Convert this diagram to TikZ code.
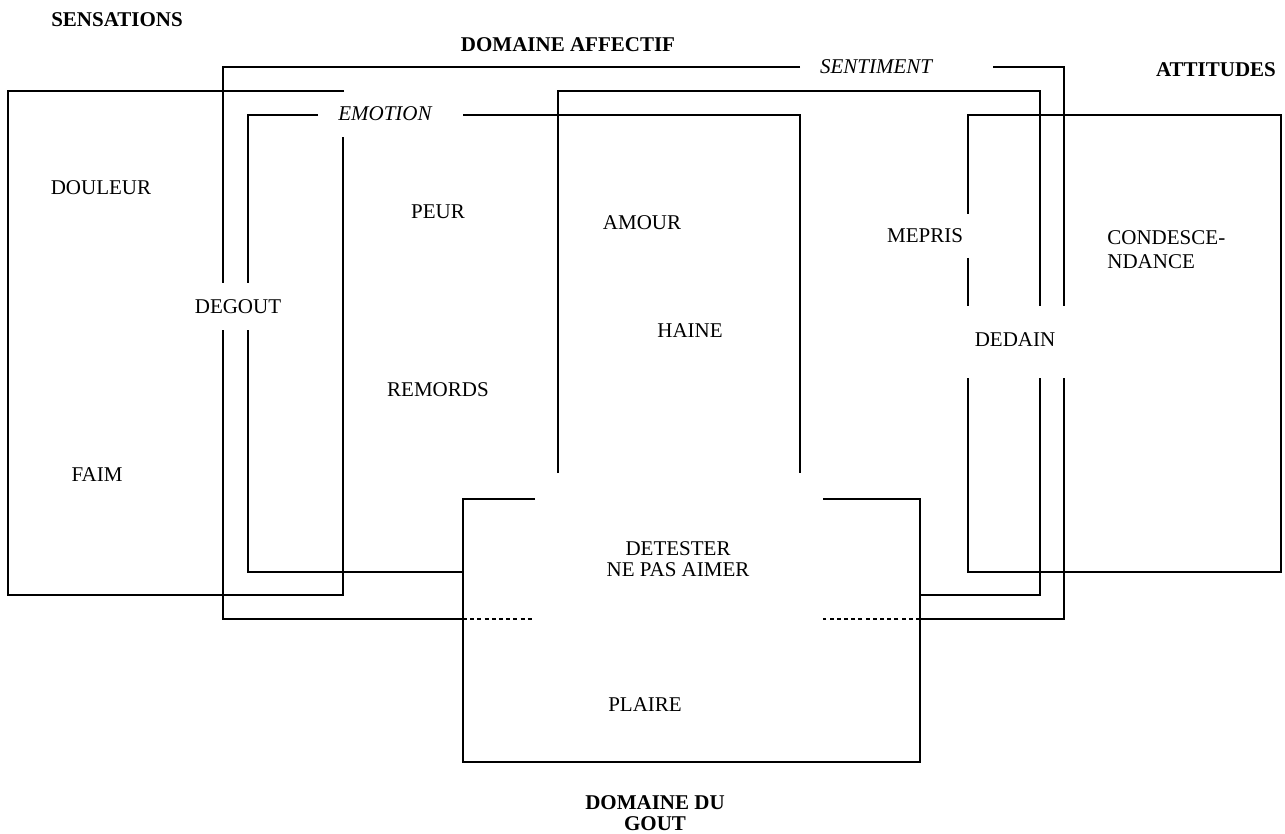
\documentclass[tikz,border=0pt]{standalone}
\usepackage{fontspec}
\setmainfont{Liberation Serif}
\begin{document}
\begin{tikzpicture}[x=0.5pt,y=-0.5pt,
  ln/.style={line width=1pt, line join=miter},
  dotln/.style={line width=1.4pt, dash pattern=on 2pt off 1.6pt},
  lbl/.style={inner sep=0pt, font=\fontsize{10.5}{10.5}\selectfont},
  hd/.style={inner sep=0pt, font=\fontsize{10.5}{10.5}\selectfont\bfseries, align=center},
  itl/.style={inner sep=0pt, font=\fontsize{10.5}{10.5}\selectfont\itshape}]
\useasboundingbox (0,0) rectangle (1285,834);

% outer box (domaine affectif)
\draw[ln] (800,67) -- (223,67) -- (223,283);
\draw[ln] (223,330) -- (223,619) -- (463,619);
\draw[dotln] (463,619) -- (533,619);
\draw[ln] (993,67) -- (1064,67) -- (1064,306);
\draw[ln] (1064,378) -- (1064,619) -- (920,619);
\draw[dotln] (920,619) -- (823,619);

% sensations box
\draw[ln] (344,91) -- (8,91) -- (8,595) -- (343,595) -- (343,137);

% emotion box
\draw[ln] (318,115) -- (248,115) -- (248,283);
\draw[ln] (248,330) -- (248,572) -- (463,572);
\draw[ln] (463,115) -- (800,115) -- (800,473);

% sentiment box
\draw[ln] (558,473) -- (558,91) -- (1040,91) -- (1040,306);
\draw[ln] (1040,378) -- (1040,595) -- (920,595);

% attitudes box
\draw[ln] (968,214) -- (968,115) -- (1281,115) -- (1281,572) -- (968,572) -- (968,378);
\draw[ln] (968,258) -- (968,306);

% domaine du gout box
\draw[ln] (535,499) -- (463,499) -- (463,762) -- (920,762) -- (920,499) -- (823,499);

% headings
\node[hd] (sens) at (117,20) {SENSATIONS};
\node[hd] (aff) at (568,45) {DOMAINE AFFECTIF};
\node[hd] (att) at (1216,70) {ATTITUDES};
\node[hd] (gout) at (655,813) {DOMAINE DU\\GOUT};
\node[itl] (sent) at (876,67) {SENTIMENT};
\node[itl] (emo) at (385,114) {EMOTION};

% labels
\node[lbl] (douleur) at (101,188) {DOULEUR};
\node[lbl] (peur) at (438,212) {PEUR};
\node[lbl] (amour) at (642,223) {AMOUR};
\node[lbl] (mepris) at (925,236) {MEPRIS};
\node[lbl, anchor=west, align=left, font=\fontsize{10.5}{12}\selectfont] (cond) at (1107,250) {CONDESCE-\\NDANCE};
\node[lbl] (degout) at (238,307) {DEGOUT};
\node[lbl] (haine) at (690,331) {HAINE};
\node[lbl] (dedain) at (1015,340) {DEDAIN};
\node[lbl] (remords) at (438,390) {REMORDS};
\node[lbl] (faim) at (97,475) {FAIM};
\node[lbl, align=center] (det) at (678,559) {DETESTER\\NE PAS AIMER};
\node[lbl] (plaire) at (645,705) {PLAIRE};
\end{tikzpicture}
\end{document}
